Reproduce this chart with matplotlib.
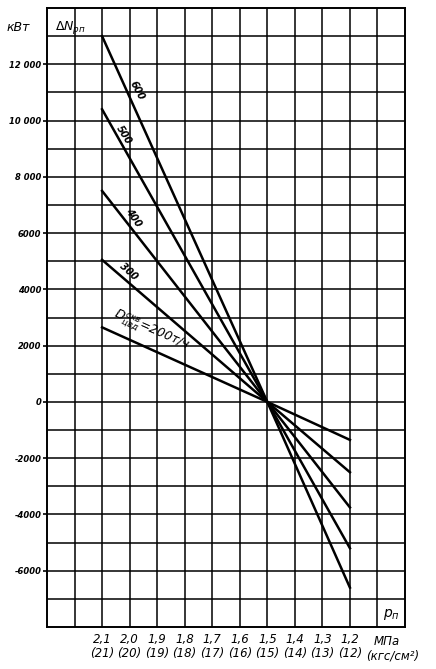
import numpy as np
import matplotlib
matplotlib.use("Agg")
import matplotlib.pyplot as plt

# ── Data ──────────────────────────────────────────────
p_mpa = [2.1, 1.5, 1.2]
dn_600 = [13000, 0, -6600]
dn_500 = [10400, 0, -5200]
dn_400 = [7500, 0, -3750]
dn_300 = [5050, 0, -2500]
dn_200 = [2650, 0, -1350]

series = [dn_600, dn_500, dn_400, dn_300, dn_200]

x_ticks = [2.1, 2.0, 1.9, 1.8, 1.7, 1.6, 1.5, 1.4, 1.3, 1.2]
x_tick_labels = ["2,1\n(21)", "2,0\n(20)", "1,9\n(19)", "1,8\n(18)", "1,7\n(17)",
                 "1,6\n(16)", "1,5\n(15)", "1,4\n(14)", "1,3\n(13)", "1,2\n(12)"]
y_ticks = [12000, 10000, 8000, 6000, 4000, 2000, 0, -2000, -4000, -6000]
y_tick_labels = ["12 000", "10 000", "8 000", "6000", "4000", "2000", "0",
                 "-2000", "-4000", "-6000"]

NARROW = ["Liberation Sans Narrow", "DejaVu Sans"]

# ── Figure ────────────────────────────────────────────
fig = plt.figure(figsize=(4.36, 6.69), dpi=100)
ax = fig.add_axes([47 / 436, 42 / 669, 358 / 436, 619 / 669])

ax.set_xlim(2.3, 1.0)
ax.set_ylim(-8000, 14000)

# grid
for gx in np.arange(1.1, 2.25, 0.1):
    ax.axvline(gx, color="black", lw=1.1, zorder=1)
for gy in range(-7000, 13001, 1000):
    ax.axhline(gy, color="black", lw=1.1, zorder=1)

for s in ax.spines.values():
    s.set_linewidth(1.4)

for vals in series:
    ax.plot(p_mpa, vals, color="black", lw=1.8, zorder=3)

# line labels
txt = dict(fontsize=7, style="italic", fontweight="bold", ha="center", va="center",
           zorder=4, family=NARROW)
ax.text(1.975, 11070, "600", rotation=-62, **txt)
ax.text(2.02, 9500, "500", rotation=-58, **txt)
ax.text(1.988, 6540, "400", rotation=-55, **txt)
ax.text(2.003, 4620, "300", rotation=-42, **txt)
ax.text(1.92, 2500, r"$D^{скв}_{цвд}$=200т/ч", rotation=-24, fontsize=9,
        style="italic", ha="center", va="center", zorder=4, family=NARROW)

# ticks
ax.set_xticks(x_ticks)
ax.set_xticklabels(x_tick_labels, fontsize=8.5, style="italic", linespacing=1.15,
                   family=NARROW)
ax.set_yticks(y_ticks)
ax.set_yticklabels(y_tick_labels, fontsize=6, style="italic", fontweight="bold",
                   family=NARROW)
ax.tick_params(axis="x", length=0, pad=4)
ax.tick_params(axis="y", length=3, width=1.2, pad=1)

ax.text(1.115, -8270, "МПа", fontsize=8.5, style="italic", ha="left", va="top",
        family=NARROW)
ax.text(1.142, -8800, "(кгс/см²)", fontsize=8.5, style="italic", ha="left", va="top",
        family=NARROW)

ax.text(-0.08, 13300, "кВт", fontsize=9, style="italic", transform=ax.get_yaxis_transform(),
        ha="center", va="center", family=NARROW)
ax.text(2.215, 13300, r"$\Delta N_{рп}$", fontsize=9, ha="center", va="center", zorder=4)
ax.text(1.051, -7550, r"$p_п$", fontsize=10, ha="center", va="center", zorder=4)

fig.savefig("out.png", dpi=100)
